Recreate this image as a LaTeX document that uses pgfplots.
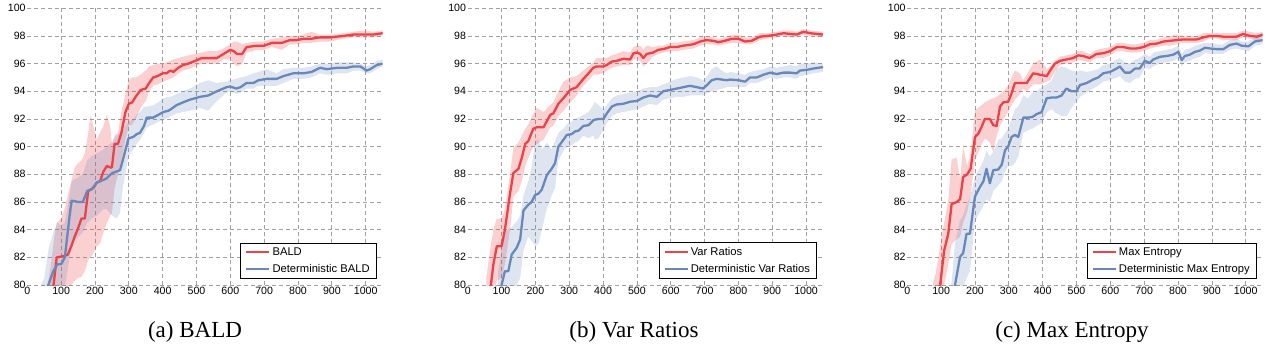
\documentclass[border=0pt]{standalone}
\usepackage{fontspec}
\setmainfont{Liberation Serif}
\setsansfont{Liberation Sans}
\usepackage{pgfplots}
\usepackage{pgfplotstable}
\pgfplotsset{compat=1.18}
\usepgfplotslibrary{fillbetween}

\definecolor{cred}{RGB}{234,66,72}
\definecolor{cblue}{RGB}{104,136,186}
\definecolor{cgrid}{RGB}{160,160,160}

% BALD
\pgfplotstableread{
x m lo hi
60 77.5 75 80
70 78.5 76 81.5
80 80.5 77.5 83.5
87 82.0 78.5 84.5
100 82.05 79 84.8
110 82.1 79.5 85.5
120 82.2 79.8 86.5
130 82.8 80 87.5
140 83.5 80.3 88.5
150 84.1 80.5 88.8
160 84.8 80.6 89.0
170 84.8 81.0 89.5
180 86.8 81.8 91.0
187 86.9 82.0 92.3
195 87.0 82.3 91.5
205 87.4 82.8 90.5
215 87.5 83.0 91.0
225 88.2 83.8 91.5
235 88.6 84.5 92.3
245 88.5 85.0 91.5
250 88.5 85.2 90.2
258 90.2 87.0 90.8
268 90.2 88.0 91.0
278 91.0 89.0 92.5
290 92.5 90.5 93.8
300 93.1 91.5 94.8
310 93.2 91.6 95.0
320 93.6 92.0 95.0
335 94.1 92.8 95.2
350 94.2 93.3 95.5
360 94.6 94.0 95.8
372 95.0 94.4 95.9
385 95.1 94.5 96.0
400 95.3 94.7 96.0
412 95.3 94.8 96.1
422 95.5 94.9 96.2
432 95.4 95.0 96.3
446 95.7 95.3 96.4
460 95.9 95.5 96.5
476 96.0 95.6 96.6
496 96.2 95.8 96.7
515 96.4 96.0 96.8
535 96.4 96.0 96.9
560 96.4 96.0 96.9
580 96.7 96.3 97.1
600 97.0 96.3 97.4
610 96.9 96.0 97.6
620 96.7 95.8 97.6
635 96.7 96.0 97.4
648 97.2 96.8 97.5
680 97.3 97.0 97.6
700 97.3 97.0 97.6
722 97.5 97.2 97.8
752 97.5 97.0 97.9
776 97.7 97.4 98.0
796 97.7 97.4 98.0
816 97.8 97.5 98.1
840 97.8 97.5 98.3
865 97.9 97.6 98.1
895 97.9 97.6 98.1
934 98.0 97.8 98.2
964 98.1 97.9 98.3
993 98.1 97.9 98.4
1023 98.1 97.9 98.3
1050 98.2 98.0 98.4
}\redA
\pgfplotstableread{
x m lo hi
40 78 76 80
50 78.5 76.5 80.5
62 80 77.5 82.5
77 81.0 78.5 83.8
89 81.5 79 84.5
100 81.5 79.3 84.3
111 82.0 79.8 84.5
125 85.0 82 86.5
131 86.1 83 87.5
151 86.0 83.5 87.8
164 86.0 83.8 88
177 86.8 84.5 89
190 86.9 84.8 89.3
205 87.4 85.0 89.5
225 87.6 85.5 89.8
234 87.7 85.5 90.0
251 88.1 85.0 90.3
264 88.2 84.8 90.8
274 88.3 85.2 91.0
282 89.0 87.0 91.2
299 90.6 89.3 91.8
313 90.7 89.8 92.0
323 90.9 90.2 92.3
333 91.0 90.5 92.5
345 91.5 91.0 92.9
353 92.1 91.4 92.9
372 92.1 91.6 93.0
387 92.3 91.8 93.2
402 92.5 91.9 93.5
417 92.6 92.1 93.6
424 92.7 92.2 93.6
441 93.0 92.4 93.8
460 93.2 92.5 94.0
481 93.4 92.6 94.2
496 93.5 92.7 94.4
510 93.6 92.8 94.6
535 93.7 92.6 94.8
560 94.0 93.3 94.6
589 94.3 93.9 94.7
599 94.35 94.0 94.8
618 94.2 93.8 94.9
630 94.3 93.9 95.0
648 94.6 94.2 95.1
668 94.6 94.2 95.3
683 94.8 94.4 95.4
707 94.9 94.4 95.6
737 94.9 94.4 95.3
757 95.1 94.6 95.6
786 95.3 94.9 95.7
816 95.3 94.9 95.7
840 95.4 95.0 95.8
865 95.7 95.3 96.0
885 95.6 95.2 96.0
916 95.7 95.3 96.1
944 95.7 95.3 96.1
964 95.8 95.5 96.1
984 95.8 95.5 96.0
1003 95.5 95.3 95.8
1013 95.6 95.3 95.9
1033 95.9 95.6 96.2
1050 96.0 95.8 96.3
}\blueA

% Var Ratios
\pgfplotstableread{
x m lo hi
55 77.5 76 80.5
66 79.5 77.5 82.5
76 81.5 79 84
86 82.8 80.3 84.8
100 82.8 80.5 84.8
110 84.0 81.5 85.5
125 86.6 84 88
135 88.1 86.4 89.9
150 88.4 86.8 90.3
160 89.2 87.5 90.8
170 90.2 88.6 91.3
179 90.4 89.2 91.6
194 91.3 90.0 92.4
204 91.4 90.2 92.8
224 91.4 90.5 92.5
244 92.3 91.4 93.0
253 92.4 91.5 93.2
268 93.1 92.2 94.0
283 93.5 92.6 94.7
303 94.1 93.2 95.0
322 94.3 93.7 95.1
342 94.9 94.4 95.5
357 95.3 94.8 95.8
371 95.7 95.2 96.1
381 95.8 95.2 96.4
401 95.8 95.3 96.4
411 95.9 95.5 96.4
426 96.15 95.7 96.6
440 96.2 95.8 96.7
460 96.35 95.9 96.9
480 96.3 95.9 96.8
490 96.75 96.3 97.2
500 96.8 96.3 97.3
510 96.7 96.2 97.3
519 96.4 95.8 97.0
529 96.7 96.0 97.3
548 96.8 96.5 97.2
563 97.0 96.7 97.3
578 97.05 96.8 97.3
598 97.2 96.9 97.5
618 97.2 96.9 97.5
637 97.3 97.0 97.6
667 97.4 97.1 97.7
687 97.6 97.3 97.9
706 97.7 97.4 98.0
726 97.65 97.4 97.9
741 97.55 97.3 97.8
760 97.65 97.4 97.9
780 97.8 97.5 98.1
800 97.8 97.5 98.1
820 97.6 97.4 97.9
839 97.65 97.4 97.9
864 97.95 97.7 98.2
884 98.0 97.8 98.2
913 98.1 97.9 98.3
933 98.2 98.0 98.4
953 98.15 97.9 98.4
972 98.1 97.9 98.3
992 98.3 98.1 98.5
1012 98.2 98.0 98.4
1050 98.1 97.9 98.3
}\redB
\pgfplotstableread{
x m lo hi
90 78.5 76 81
100 80 77.5 82.5
110 81.0 78.5 83.8
120 81.0 78.5 84.0
130 82.2 79.5 84.2
145 82.7 80.0 84.6
155 83.3 80.5 85.0
165 85.4 82.5 86.5
179 85.8 83.5 87.5
189 86.0 83.2 88.5
199 86.5 82.8 90.4
209 86.6 83.0 90.5
219 86.9 84.0 89.8
234 87.95 85.5 90.3
248 88.4 86.5 89.8
258 88.8 87.0 90.4
268 90.0 89.0 91.0
283 90.5 89.7 91.3
293 90.85 90.0 91.6
307 90.9 90.1 91.8
317 91.1 90.3 92.0
327 91.15 90.4 92.1
342 91.5 90.8 92.3
357 91.55 90.6 92.5
371 91.9 90.8 93.0
376 91.95 90.5 93.25
386 92.0 90.6 93.0
401 92.0 91.2 92.7
411 92.4 91.7 93.0
426 92.9 92.2 93.5
440 93.05 92.4 93.7
460 93.1 92.5 93.8
480 93.25 92.6 93.9
500 93.3 92.7 94.0
519 93.55 92.9 94.2
539 93.7 93.1 94.3
559 93.6 93.0 94.3
578 94.0 93.4 94.5
598 94.1 93.5 94.7
618 94.2 93.6 94.9
637 94.3 93.6 95.0
657 94.4 93.7 95.1
677 94.3 93.7 95.0
696 94.2 93.7 94.8
711 94.55 93.9 95.2
721 94.8 94.0 95.6
736 94.9 94.1 95.8
751 94.85 94.2 95.5
766 94.8 94.3 95.3
776 94.85 94.3 95.4
800 94.8 94.3 95.3
820 94.7 94.3 95.2
834 95.0 94.6 95.4
854 95.0 94.6 95.5
874 95.2 94.8 95.6
894 95.35 95.0 95.8
913 95.25 94.9 95.7
933 95.35 95.0 95.8
953 95.35 95.0 95.9
972 95.3 94.9 95.8
982 95.5 95.1 96.0
1002 95.55 95.2 96.0
1022 95.65 95.3 96.1
1050 95.75 95.4 96.0
}\blueB

% Max Entropy
\pgfplotstableread{
x m lo hi
70 76.5 75 79.5
85 78 76 81
97 80.0 78.5 82.8
109 82.5 80 84.5
121 83.7 81.5 86.1
131 85.85 83 89.1
146 86.0 83.3 89.2
156 86.2 83.5 87.6
165 87.8 84.5 90.0
177 88.0 85.3 88.6
187 88.4 86.5 89.5
200 90.7 89.0 92.65
210 90.95 89.6 92.8
220 91.45 90.2 93.0
229 92.0 90.6 93.2
244 92.0 90.3 93.4
254 91.55 89.6 93.5
264 91.5 90.8 93.6
274 92.9 91.5 93.8
284 93.2 92.0 94.0
298 93.25 92.5 94.4
308 93.85 93.0 95.0
318 94.6 93.4 95.5
333 94.6 93.8 95.3
342 94.6 94.2 94.8
353 94.6 94.0 95.2
372 95.3 94.5 96.0
392 95.2 94.5 96.3
412 95.1 94.7 95.6
422 95.5 94.8 95.8
436 96.0 95.4 96.2
451 96.2 95.9 96.5
470 96.3 96.0 96.6
490 96.4 96.1 96.7
505 96.6 96.3 96.9
520 96.55 96.2 96.9
539 96.4 96.1 96.7
559 96.7 96.4 97.0
579 96.75 96.4 97.1
599 96.9 96.6 97.2
619 97.2 96.9 97.5
638 97.2 96.9 97.5
658 97.1 96.8 97.4
678 97.1 96.8 97.4
698 97.2 96.9 97.5
717 97.4 97.1 97.7
737 97.45 97.2 97.7
757 97.6 97.3 97.9
776 97.65 97.3 98.0
796 97.7 97.4 98.1
816 97.75 97.5 98.0
835 97.75 97.5 98.0
855 97.75 97.5 98.0
875 97.9 97.6 98.2
894 98.0 97.8 98.2
914 98.0 97.8 98.2
934 97.95 97.7 98.2
953 97.95 97.7 98.2
973 97.95 97.7 98.2
993 98.15 97.9 98.4
1013 98.0 97.8 98.3
1033 97.95 97.7 98.2
1050 98.1 97.9 98.3
}\redC
\pgfplotstableread{
x m lo hi
130 77.5 75.5 80
141 80.0 77.5 83
156 82.05 79.5 84.7
165 82.3 79.8 85.0
175 83.7 80.5 85.8
185 83.7 81.0 86.3
200 86.4 84.6 87.8
215 87.1 85.3 88.5
225 87.5 85.7 89.0
234 88.4 86.2 89.7
244 87.35 86.0 89.3
254 88.3 86.8 89.6
269 88.35 87.2 90.5
279 88.7 87.5 90.6
289 89.75 88.2 91.0
298 90.0 88.6 91.3
308 90.7 88.6 92.0
318 90.85 88.8 92.7
328 90.7 89.3 92.9
343 92.1 91.0 93.7
357 92.1 91.2 93.5
370 92.15 91.3 93.9
382 92.35 91.5 94.0
397 92.5 91.7 94.3
412 93.5 92.5 94.5
427 93.55 92.7 94.8
441 93.55 92.4 95.6
456 93.7 92.2 95.8
470 94.2 92.2 95.7
486 94.0 92.8 95.5
500 94.0 93.3 95.4
510 94.45 93.6 95.5
530 94.6 93.9 95.4
549 94.85 94.2 95.5
564 95.0 94.4 95.6
579 95.3 94.7 95.9
599 95.4 94.8 96.0
619 95.65 95.0 96.3
628 95.8 95.1 96.4
643 95.35 94.7 96.1
658 95.35 94.6 96.0
673 95.65 94.9 96.3
687 95.65 95.0 96.4
702 96.2 95.7 96.7
717 96.05 95.6 96.5
727 96.3 95.8 96.8
747 96.5 96.0 96.9
766 96.55 96.1 97.0
786 96.65 96.2 97.1
801 96.85 96.4 97.3
811 96.25 95.8 96.7
820 96.55 96.1 97.0
835 96.65 96.2 97.1
850 96.85 96.4 97.3
865 96.95 96.5 97.4
880 97.15 96.8 97.5
894 97.1 96.7 97.5
914 97.05 96.7 97.4
934 97.05 96.7 97.4
953 97.35 97.0 97.7
973 97.45 97.1 97.8
988 97.3 97.0 97.6
1008 97.25 96.9 97.6
1027 97.6 97.3 97.9
1050 97.7 97.4 98.0
}\blueC

\pgfplotsset{
  panel/.style={
    scale only axis, width=355.3pt, height=276.7pt,
    xmin=0, xmax=1050, ymin=80, ymax=100,
    xtick={100,200,...,1000}, extra x ticks={0},
    extra x tick style={grid=none},
    ytick={80,82,...,100},
    grid=major,
    major grid style={cgrid, line width=0.7pt, dash pattern=on 4pt off 3pt},
    axis line style={draw opacity=0},
    tick style={draw opacity=0},
    tick label style={font=\sffamily\fontsize{10.6}{12}\selectfont},
    /pgf/number format/assume math mode=true,
    /pgf/number format/1000 sep={},
    xticklabel style={inner sep=1pt, yshift=-0.5pt},
    yticklabel style={inner sep=1.5pt},
    legend style={at={(0.983,0.022)}, anchor=south east, draw=black,
      line width=0.8pt, font=\sffamily\fontsize{11.2}{13}\selectfont,
      inner xsep=4.5pt, inner ysep=2.5pt, row sep=3.5pt},
    legend cell align=left,
    legend image code/.code={%
      \draw[line width=2.2pt, opacity=0.75] (0pt,0pt) -- (18pt,0pt);
      \path (0pt,0pt) -- (23pt,0pt);},
  },
  band/.style={draw=none, forget plot},
  mean/.style={line width=2.3pt, line join=round},
}

\begin{document}
\begin{tikzpicture}

\begin{axis}[panel, at={(27.3pt,-285pt)}, anchor=south west]
\addplot[band, name path=rh] table[x=x, y=hi] {\redA};
\addplot[band, name path=rl] table[x=x, y=lo] {\redA};
\addplot[band, fill=cred, fill opacity=0.25] fill between[of=rh and rl];
\addplot[band, name path=bh] table[x=x, y=hi] {\blueA};
\addplot[band, name path=bl] table[x=x, y=lo] {\blueA};
\addplot[band, fill=cblue, fill opacity=0.22] fill between[of=bh and bl];
\addplot[mean, cred] table[x=x, y=m] {\redA};
\addplot[mean, cblue] table[x=x, y=m] {\blueA};
\legend{BALD, Deterministic BALD}
\end{axis}

\begin{axis}[panel, at={(467.7pt,-285pt)}, anchor=south west]
\addplot[band, name path=rh] table[x=x, y=hi] {\redB};
\addplot[band, name path=rl] table[x=x, y=lo] {\redB};
\addplot[band, fill=cred, fill opacity=0.25] fill between[of=rh and rl];
\addplot[band, name path=bh] table[x=x, y=hi] {\blueB};
\addplot[band, name path=bl] table[x=x, y=lo] {\blueB};
\addplot[band, fill=cblue, fill opacity=0.22] fill between[of=bh and bl];
\addplot[mean, cred] table[x=x, y=m] {\redB};
\addplot[mean, cblue] table[x=x, y=m] {\blueB};
\legend{Var Ratios, Deterministic Var Ratios}
\end{axis}

\begin{axis}[panel, at={(907.3pt,-285pt)}, anchor=south west]
\addplot[band, name path=rh] table[x=x, y=hi] {\redC};
\addplot[band, name path=rl] table[x=x, y=lo] {\redC};
\addplot[band, fill=cred, fill opacity=0.25] fill between[of=rh and rl];
\addplot[band, name path=bh] table[x=x, y=hi] {\blueC};
\addplot[band, name path=bl] table[x=x, y=lo] {\blueC};
\addplot[band, fill=cblue, fill opacity=0.22] fill between[of=bh and bl];
\addplot[mean, cred] table[x=x, y=m] {\redC};
\addplot[mean, cblue] table[x=x, y=m] {\blueC};
\legend{Max Entropy, Deterministic Max Entropy}
\end{axis}

\node[font=\fontsize{23}{26}\selectfont, anchor=base] at (195pt,-337pt) {(a) BALD};
\node[font=\fontsize{23}{26}\selectfont, anchor=base] at (634pt,-337pt) {(b) Var Ratios};
\node[font=\fontsize{23}{26}\selectfont, anchor=base] at (1072pt,-337pt) {(c) Max Entropy};
\path (0pt,0pt) rectangle (1274pt,-343pt);
\end{tikzpicture}
\end{document}
